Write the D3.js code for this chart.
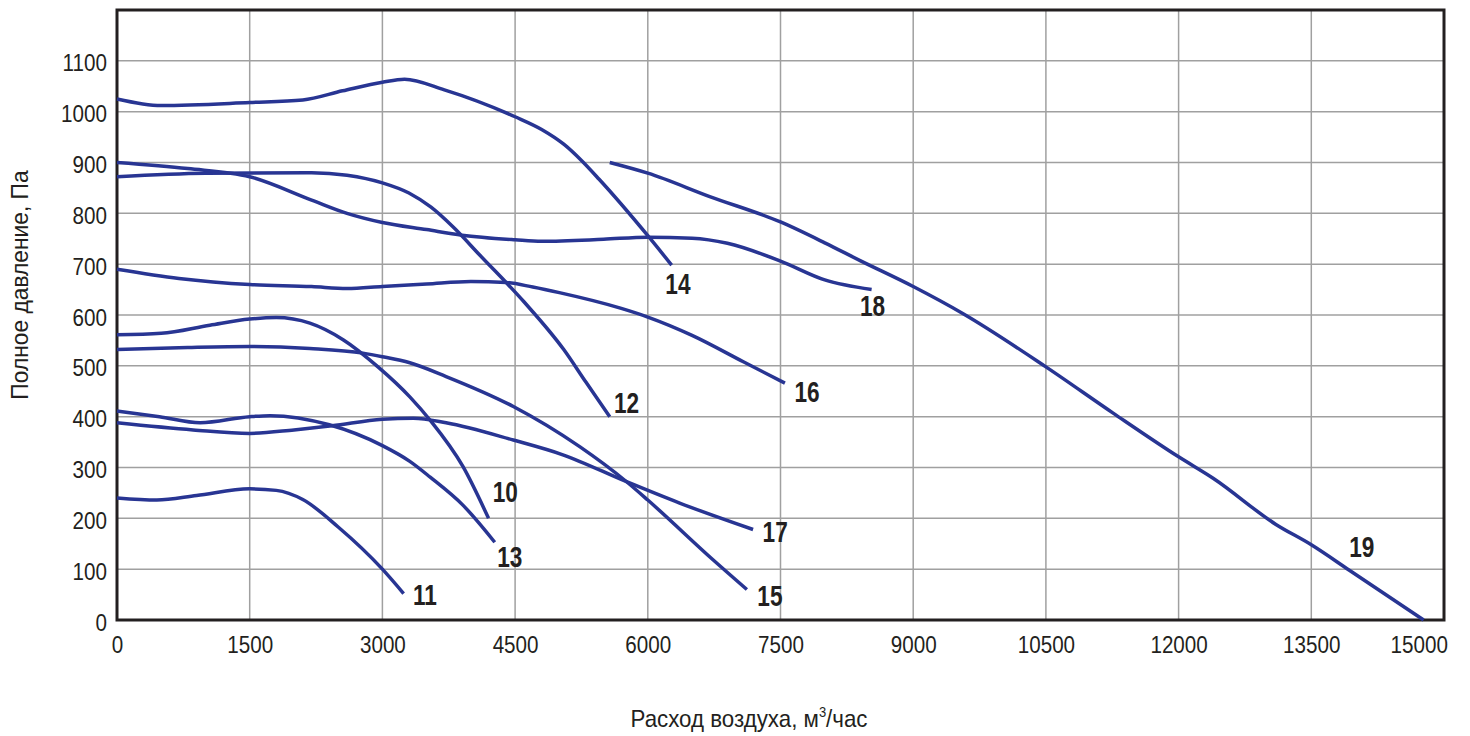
<!DOCTYPE html>
<html>
<head>
<meta charset="utf-8">
<script src="https://cdn.jsdelivr.net/npm/d3@7"></script>
<style>
  body { margin: 0; background: #fff; }
  text { font-family: "Liberation Sans Narrow", "Liberation Sans", "Arial", sans-serif; fill: #231f20; }
</style>
</head>
<body>
<div id="chart"></div>
<script>
/* DATA */
const xTicks = [0, 1500, 3000, 4500, 6000, 7500, 9000, 10500, 12000, 13500, 15000];
const yTicks = [0, 100, 200, 300, 400, 500, 600, 700, 800, 900, 1000, 1100];
const yGrid = [100, 200, 300, 400, 500, 600, 700, 800, 900, 1000, 1100];

const curveNames = ["10", "11", "12", "13", "14", "15", "16", "17", "18", "19"];

const curve10 = [[0,561],[500,564],[1050,580],[1500,592],[1800,595],[2180,584],[2560,551],[2950,498],[3310,439],[3540,393],[3910,302],[4200,200]];
const curve11 = [[0,240],[450,236],[900,245],[1500,258],[1800,255],[2100,237],[2500,183],[3000,100],[3240,52]];
const curve12 = [[0,872],[1000,879],[2200,880],[2600,875],[3000,860],[3300,840],[3550,812],[3800,773],[4100,718],[4600,626],[5050,532],[5300,468],[5570,400]];
const curve13 = [[0,411],[480,400],[940,388],[1500,400],[1730,402],[2400,384],[3000,343],[3310,312],[3540,281],[3910,226],[4270,153]];
const curve14 = [[0,1025],[500,1012],[1500,1018],[2100,1023],[2550,1041],[3000,1058],[3250,1064],[3700,1043],[4500,990],[4800,965],[5050,936],[5250,904],[5450,867],[6000,756],[6270,698]];
const curve15 = [[0,532],[800,536],[1500,538],[2180,534],[2780,525],[3000,518],[3310,506],[3720,479],[4480,420],[5230,341],[5760,272],[6000,236],[6740,118],[7120,60]];
const curve16 = [[0,690],[700,672],[1500,660],[2200,656],[2600,652],[3000,656],[3500,661],[4000,666],[4400,664],[4700,655],[5000,644],[5700,613],[6000,596],[6500,560],[7080,508],[7550,466]];
const curve17 = [[0,388],[860,374],[1500,367],[2000,374],[2430,382],[3000,395],[3350,397],[3720,388],[4480,354],[5040,325],[5760,272],[6360,230],[7190,178]];
const curve18 = [[0,900],[800,888],[1500,872],[2200,826],[2600,800],[3000,782],[3500,768],[3900,757],[4500,748],[4800,745],[5500,749],[6000,753],[6500,751],[6900,741],[7500,706],[8000,669],[8530,650]];
const curve19 = [[5570,900],[6000,879],[6700,833],[7500,783],[8000,742],[8400,707],[9000,656],[9560,603],[10500,498],[11260,407],[12000,321],[12390,279],[13100,188],[13500,148],[13930,98],[14770,0]];

// where each curve's number sits, in chart units (m³/час, Па)
const labelAt = [[4390,253],[3480,50],[5760,428],[4440,124],[6340,662],[7380,49],[7800,450],[7440,174],[8540,618],[14070,144]];

const curves = [curve10, curve11, curve12, curve13, curve14, curve15, curve16, curve17, curve18, curve19];

/* LAYOUT */
const width = 1470, height = 736;
const margin = { top: 10, left: 117, right: 26, bottom: 116 };
const narrow = 0.86; // the original uses a condensed face

const svg = d3.select("#chart").append("svg")
  .attr("width", width)
  .attr("height", height);

const x = d3.scaleLinear().domain([0, 15000]).range([margin.left, width - margin.right]);
const y = d3.scaleLinear().domain([0, 1200]).range([height - margin.bottom, margin.top]);

// grid
svg.append("g")
  .selectAll("line")
  .data(xTicks.slice(1, -1))
  .join("line")
  .attr("x1", d => x(d)).attr("x2", d => x(d))
  .attr("y1", y(1200)).attr("y2", y(0))
  .attr("stroke", "#a0a0a0")
  .attr("stroke-width", 1.5);

svg.append("g")
  .selectAll("line")
  .data(yGrid)
  .join("line")
  .attr("x1", x(0)).attr("x2", x(15000))
  .attr("y1", d => y(d)).attr("y2", d => y(d))
  .attr("stroke", "#a0a0a0")
  .attr("stroke-width", 1.5);

// frame
svg.append("rect")
  .attr("x", x(0)).attr("y", y(1200))
  .attr("width", x(15000) - x(0))
  .attr("height", y(0) - y(1200))
  .attr("fill", "none")
  .attr("stroke", "#231f20")
  .attr("stroke-width", 3);

// axes (labels only)
const xAxis = svg.append("g")
  .attr("transform", `translate(0,${y(0)})`)
  .call(d3.axisBottom(x).tickValues(xTicks).tickSize(0).tickPadding(16).tickFormat(d3.format("d")));
xAxis.select(".domain").remove();
xAxis.selectAll("text")
  .attr("font-size", 24)
  .attr("font-family", null)
  .attr("fill", "#231f20")
  .attr("transform", `scale(${narrow},1)`)
  .filter(d => d === 15000)
  .attr("text-anchor", "end")
  .attr("dx", 4);

const yAxis = svg.append("g")
  .attr("transform", `translate(${x(0)},0)`)
  .call(d3.axisLeft(y).tickValues(yTicks).tickSize(0).tickPadding(0).tickFormat(d3.format("d")));
yAxis.select(".domain").remove();
yAxis.selectAll("text")
  .attr("x", 0)
  .attr("font-size", 24)
  .attr("font-family", null)
  .attr("fill", "#231f20")
  .attr("dy", "0.42em")
  .attr("transform", `translate(-10,0) scale(${narrow},1)`);

// axis titles
const xTitle = svg.append("text")
  .attr("transform", `translate(749,727) scale(0.93,1)`)
  .attr("text-anchor", "middle")
  .attr("font-size", 24);
xTitle.append("tspan").text("Расход воздуха, м");
xTitle.append("tspan").attr("font-size", 14).attr("dy", -10).text("3");
xTitle.append("tspan").attr("dy", 10).text("/час");

svg.append("text")
  .attr("transform", "translate(28,285) rotate(-90) scale(0.95,1)")
  .attr("text-anchor", "middle")
  .attr("font-size", 24)
  .text("Полное давление, Па");

// curves
const line = d3.line()
  .x(d => x(d[0]))
  .y(d => y(d[1]))
  .curve(d3.curveMonotoneX);

svg.append("g")
  .selectAll("path")
  .data(curves)
  .join("path")
  .attr("d", line)
  .attr("fill", "none")
  .attr("stroke", "#283593")
  .attr("stroke-width", 3.5);

svg.append("g")
  .selectAll("text")
  .data(curveNames)
  .join("text")
  .attr("transform", (d, i) => `translate(${x(labelAt[i][0])},${y(labelAt[i][1])}) scale(0.78,1)`)
  .attr("text-anchor", "middle")
  .attr("dy", "0.36em")
  .attr("font-size", 29)
  .attr("font-weight", "bold")
  .text(d => d);
</script>
</body>
</html>
